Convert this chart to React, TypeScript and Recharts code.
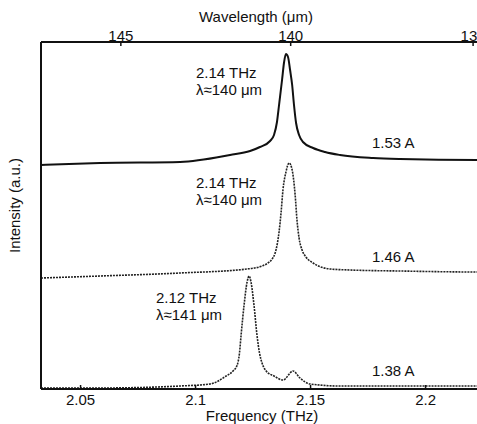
import React from 'react';
import { LineChart, Line, XAxis, YAxis, ReferenceDot } from 'recharts';

// c in um*THz, used to place the wavelength ticks on the frequency scale
const C_UM_THZ = 299.79;

const freqTicks = [2.05, 2.1, 2.15, 2.2];
const wavelengthTicks = [145, 140, 135];

// 1.53 A spectrum (solid)
const topFreq = [2.0328, 2.0585, 2.0933, 2.115, 2.1237, 2.128, 2.1324, 2.1341, 2.1354, 2.1363, 2.1376, 2.1385, 2.1393, 2.1402, 2.1411, 2.142, 2.1428, 2.1437, 2.145, 2.1467, 2.1511, 2.1563, 2.1628, 2.1772, 2.1889, 2.2224, 2.2328];
const topInt = [224, 226, 227, 234, 238, 242, 248, 254, 267, 284, 309, 327, 335, 332, 319, 304, 284, 266, 254, 247, 241, 237, 234, 231, 230, 229, 229];

// 1.46 A spectrum (dotted)
const midFreq = [2.0328, 2.0585, 2.0933, 2.1224, 2.1289, 2.1315, 2.1333, 2.1346, 2.1356, 2.1363, 2.1372, 2.138, 2.1393, 2.1407, 2.142, 2.1433, 2.1441, 2.145, 2.1463, 2.148, 2.1511, 2.1585, 2.1672, 2.1889, 2.2224, 2.2328];
const midInt = [111, 113, 116, 120, 123, 126, 130, 136, 146, 157, 177, 199, 217, 226, 219, 194, 169, 151, 139, 132, 126, 120, 119, 118, 117, 117];

// 1.38 A spectrum (dotted)
const lowFreq = [2.0328, 2.0585, 2.0933, 2.1063, 2.1133, 2.1163, 2.1181, 2.1191, 2.1198, 2.1211, 2.1224, 2.1233, 2.1241, 2.1254, 2.1267, 2.1278, 2.1289, 2.1307, 2.1341, 2.138, 2.1424, 2.1454, 2.1498, 2.1628, 2.1889, 2.2328];
const lowInt = [1, 1, 3, 5, 13, 18, 24, 36, 54, 84, 107, 113, 107, 84, 54, 36, 26, 18, 13, 9, 18, 11, 5, 3, 3, 3];

// annotations: anchor (left, first baseline) in data units
const noteFreq = [2.1002, 2.1002, 2.0828, 2.1767, 2.1767, 2.1767];
const noteInt = [311, 201, 86, 241, 127, 13];
const noteText = [
  ['2.14 THz', 'λ≈140 μm'],
  ['2.14 THz', 'λ≈140 μm'],
  ['2.12 THz', 'λ≈141 μm'],
  ['1.53 A'],
  ['1.46 A'],
  ['1.38 A'],
];

const toRows = (fs: number[], vs: number[]) => fs.map((f, i) => ({ f, v: vs[i] }));
const topData = toRows(topFreq, topInt);
const midData = toRows(midFreq, midInt);
const lowData = toRows(lowFreq, lowInt);

const FONT = "'Liberation Sans', Arial, Helvetica, sans-serif";
const INK = '#111';

const noteLabel = (lines: string[]) => (props: any) => {
  const vb = props.viewBox || {};
  const x = vb.x + (vb.width || 0) / 2;
  const y = vb.y + (vb.height || 0) / 2;
  return (
    <text x={x} y={y} fill={INK} fontSize={15} fontFamily={FONT} textAnchor="start">
      {lines.map((t, i) => (
        <tspan key={i} x={x} dy={i === 0 ? 0 : 17}>
          {t}
        </tspan>
      ))}
    </text>
  );
};

export default function App() {
  const tickStyle = { fill: INK, fontSize: 15, fontFamily: FONT };
  return (
    <div style={{ position: 'absolute', left: 0, top: 0, width: 477, height: 424, overflow: 'hidden', background: '#fff' }}>
      <LineChart width={501} height={424} margin={{ top: 0, right: 0, bottom: 0, left: 0 }}>
        <XAxis
          xAxisId="f"
          type="number"
          dataKey="f"
          domain={[2.0328, 2.2328]}
          allowDataOverflow
          ticks={freqTicks}
          tickFormatter={(v) => String(v)}
          orientation="bottom"
          height={35}
          tickSize={-4}
          tickMargin={9}
          tick={tickStyle}
          axisLine={{ stroke: INK, strokeWidth: 2 }}
          tickLine={{ stroke: INK, strokeWidth: 1.5 }}
          label={(p: any) => {
            const vb = p.viewBox;
            return (
              <text x={vb.x + vb.width / 2 - 9} y={vb.y + vb.height - 3} textAnchor="middle" fill={INK} fontSize={15} fontFamily={FONT}>
                Frequency (THz)
              </text>
            );
          }}
        />
        <XAxis
          xAxisId="w"
          type="number"
          dataKey="f"
          domain={[2.0328, 2.2328]}
          allowDataOverflow
          ticks={wavelengthTicks.map((l) => C_UM_THZ / l)}
          tickFormatter={(v) => String(Math.round(C_UM_THZ / v))}
          orientation="top"
          height={42}
          tickSize={-4}
          tickMargin={5}
          tick={tickStyle}
          axisLine={{ stroke: INK, strokeWidth: 2 }}
          tickLine={{ stroke: INK, strokeWidth: 1.5 }}
          label={(p: any) => {
            const vb = p.viewBox;
            return (
              <text x={vb.x + vb.width / 2 - 15} y={22} textAnchor="middle" fill={INK} fontSize={15} fontFamily={FONT}>
                Wavelength (μm)
              </text>
            );
          }}
        />
        <YAxis
          type="number"
          domain={[0, 347]}
          allowDataOverflow
          width={41}
          tick={false}
          tickLine={false}
          axisLine={{ stroke: INK, strokeWidth: 2 }}
          label={(p: any) => {
            const vb = p.viewBox;
            const cx = vb.x + 20;
            const cy = vb.y + vb.height / 2 - 10;
            return (
              <text x={cx} y={cy} transform={`rotate(-90 ${cx} ${cy})`} textAnchor="middle" fill={INK} fontSize={15} fontFamily={FONT}>
                Intensity (a.u.)
              </text>
            );
          }}
        />
        <Line xAxisId="f" data={topData} dataKey="v" type="monotone" stroke={INK} strokeWidth={2} dot={false} isAnimationActive={false} />
        <Line xAxisId="f" data={midData} dataKey="v" type="monotone" stroke="#222" strokeWidth={1.6} strokeDasharray="2 1" dot={false} isAnimationActive={false} />
        <Line xAxisId="f" data={lowData} dataKey="v" type="monotone" stroke="#222" strokeWidth={1.6} strokeDasharray="2 1" dot={false} isAnimationActive={false} />
        {noteText.map((lines, i) => (
          <ReferenceDot
            key={i}
            xAxisId="f"
            x={noteFreq[i]}
            y={noteInt[i]}
            r={0}
            fill="none"
            stroke="none"
            label={noteLabel(lines)}
          />
        ))}
      </LineChart>
    </div>
  );
}
